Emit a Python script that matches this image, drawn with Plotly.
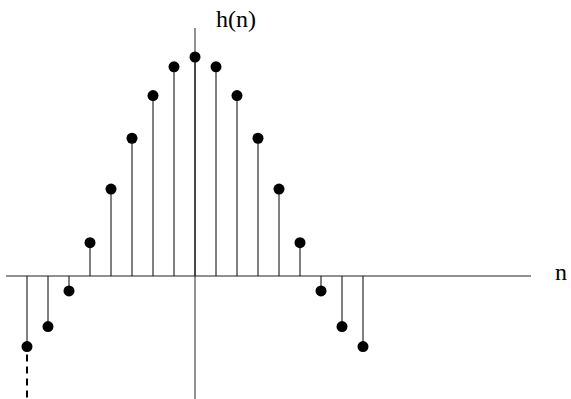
import plotly.graph_objects as go

# Impulse response samples h(n), n = -8 .. 8 (symmetric about n = 0)
n_vals = list(range(-8, 9))
h_half = [1.0, 0.955, 0.824, 0.629, 0.397, 0.152, -0.068, -0.231, -0.322]
h_vals = [h_half[abs(k)] for k in n_vals]

W, H = 571, 399
px_per_n = 21.0
px_per_h = 219.0
x0_px, y0_px = 195.0, 276.0  # pixel location of the origin

x_range = [-x0_px / px_per_n, (W - x0_px) / px_per_n]
y_range = [-(H - y0_px) / px_per_h, y0_px / px_per_h]

def px_to_x(p):
    return (p - x0_px) / px_per_n

def px_to_y(p):
    return (y0_px - p) / px_per_h

fig = go.Figure()

# axes drawn as plain lines
fig.add_trace(go.Scatter(x=[px_to_x(6), px_to_x(531)], y=[0, 0], mode="lines",
                         line=dict(color="#222", width=1), hoverinfo="skip"))
fig.add_trace(go.Scatter(x=[0, 0], y=[px_to_y(28), y_range[0]], mode="lines",
                         line=dict(color="#222", width=1), hoverinfo="skip"))

# stems
sx, sy = [], []
for k, v in zip(n_vals, h_vals):
    sx += [k, k, None]
    sy += [0, v, None]
fig.add_trace(go.Scatter(x=sx, y=sy, mode="lines",
                         line=dict(color="black", width=1), hoverinfo="skip"))

# dashed continuation below the first sample
fig.add_trace(go.Scatter(x=[n_vals[0], n_vals[0]],
                         y=[h_vals[0] - 8 / px_per_h, y_range[0]],
                         mode="lines", line=dict(color="black", width=2, dash="7px,5px"),
                         hoverinfo="skip"))

# sample markers
fig.add_trace(go.Scatter(x=n_vals, y=h_vals, mode="markers",
                         marker=dict(color="black", size=11, symbol="circle"),
                         hoverinfo="skip"))

font = dict(family="Liberation Serif, Times New Roman, serif", size=24, color="black")
fig.add_annotation(x=px_to_x(236), y=px_to_y(19), text="h(n)", showarrow=False,
                   font=font, xanchor="center", yanchor="middle")
fig.add_annotation(x=px_to_x(561), y=px_to_y(272), text="n", showarrow=False,
                   font=font, xanchor="center", yanchor="middle")

fig.update_layout(
    width=W, height=H,
    margin=dict(l=0, r=0, t=0, b=0),
    paper_bgcolor="white", plot_bgcolor="white",
    showlegend=False,
    xaxis=dict(range=x_range, visible=False, fixedrange=True),
    yaxis=dict(range=y_range, visible=False, fixedrange=True),
)

fig.write_html("out.html")
